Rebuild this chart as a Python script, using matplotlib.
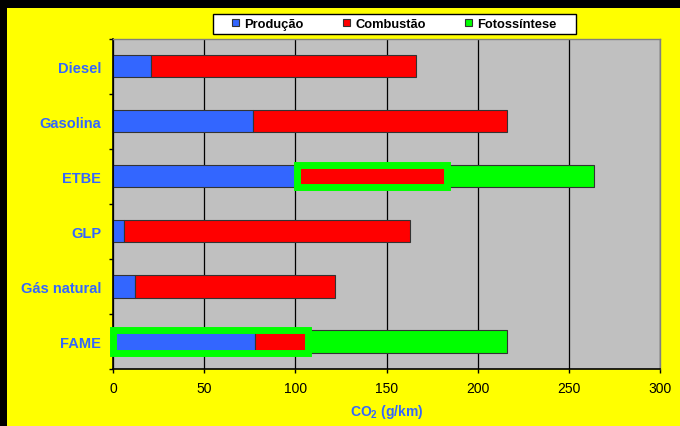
import numpy as np
import matplotlib
matplotlib.use("Agg")
import matplotlib.pyplot as plt
from matplotlib.patches import Rectangle, Patch

plt.rcParams['font.family'] = ['Liberation Sans', 'DejaVu Sans']

# dados (g CO2/km)
categorias = ["Diesel", "Gasolina", "ETBE", "GLP", "Gás natural", "FAME"]
producao = [21, 77, 101, 6, 12, 78]
combustao = [145, 139, 82, 157, 110, 29]
fotossintese = [0, 0, 81, 0, 0, 109]
series = ["Produção", "Combustão", "Fotossíntese"]
cores = ["#3366FF", "#FF0000", "#00FF00"]
# segmentos realçados com a moldura verde
destaque = {"ETBE": ["Combustão"], "FAME": ["Produção", "Combustão"]}
xticks = [0, 50, 100, 150, 200, 250, 300]

W, H = 680, 427
fig = plt.figure(figsize=(W / 100, H / 100), dpi=100)
fig.patch.set_facecolor("black")
fig.add_artist(Rectangle((7 / W, 0), 1 - 7 / W, (H - 9) / H, transform=fig.transFigure,
                         facecolor="#FFFF00", edgecolor="none", zorder=-1))

ax = fig.add_axes([113 / W, (H - 370) / H, (660 - 113) / W, (370 - 39.5) / H])
ax.set_facecolor("#C0C0C0")

y = np.arange(len(categorias))
altura = 0.405
valores = [producao, combustao, fotossintese]
inicio = np.zeros(len(categorias))
for nome, vals, cor in zip(series, valores, cores):
    vals = np.array(vals, dtype=float)
    m = vals > 0
    ax.barh(y[m], vals[m], left=inicio[m], height=altura, color=cor,
            edgecolor="#333333", linewidth=0.8, zorder=2)
    inicio = inicio + vals

# moldura verde
for cat, segs in destaque.items():
    i = categorias.index(cat)
    limites = np.cumsum([0] + [v[i] for v in valores])
    idx = [series.index(s) for s in segs]
    x0, x1 = limites[min(idx)], limites[max(idx) + 1]
    ax.add_patch(Rectangle((x0, i - altura / 2), x1 - x0, altura, fill=False,
                           edgecolor="#00FF00", linewidth=5.0, joinstyle="miter",
                           zorder=3, clip_on=False))

ax.set_xlim(0, 300)
ax.set_ylim(len(categorias) - 0.5, -0.5)
ax.set_xticks(xticks)
ax.set_yticks(y)
ax.set_yticklabels(categorias, fontsize=10.5, fontweight="bold", color="#3366FF")
ax.set_yticks(np.arange(-0.5, len(categorias), 1), minor=True)
ax.tick_params(axis="y", which="major", length=0, pad=8.5)
ax.tick_params(axis="y", which="minor", length=3, width=1, color="black", direction="out")
ax.tick_params(axis="x", length=3, width=1, direction="out", labelsize=10, pad=6)
ax.xaxis.grid(True, color="black", linewidth=0.9, zorder=1)
ax.set_axisbelow(True)

for s in ["top", "right"]:
    ax.spines[s].set_color("#808080")
    ax.spines[s].set_linewidth(1.0)
for s in ["left", "bottom"]:
    ax.spines[s].set_color("black")
    ax.spines[s].set_linewidth(1.2)

ax.set_xlabel("CO$_\\mathregular{2}$ (g/km)", fontsize=10, fontweight="bold",
              color="#3366FF", labelpad=4.5)

# legenda
fig.add_artist(Rectangle((212.7 / W, 1 - 35 / H), (576 - 212.7) / W, 20 / H,
                         transform=fig.transFigure, facecolor="white",
                         edgecolor="black", linewidth=1.0, zorder=5))
alcas = [Patch(facecolor=c, edgecolor="#333333", linewidth=0.8) for c in cores]
leg = fig.legend(alcas, series, loc="center", bbox_to_anchor=(394.4 / W, 1 - 25 / H),
                 ncol=3, frameon=False, handlelength=0.55, handleheight=0.55,
                 handletextpad=0.4, columnspacing=3.05, borderpad=0,
                 prop={"family": "Liberation Sans", "size": 9.3, "weight": "bold"})
leg.set_zorder(6)

fig.savefig("out.png", dpi=100, facecolor=fig.get_facecolor())
